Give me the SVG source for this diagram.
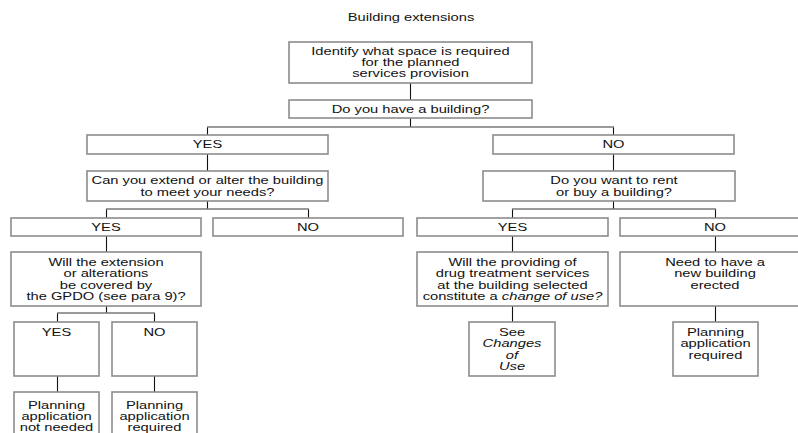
<svg xmlns="http://www.w3.org/2000/svg" width="798" height="433" viewBox="0 0 798 433">
<style>
  .box{fill:#fff;stroke:#8c8c8c;stroke-width:1.6}
  .v{stroke:#111;stroke-width:1.1;fill:none}
  .h{stroke:#7a7a7a;stroke-width:1.6;fill:none}
  text{font-family:"Liberation Sans",Arial,sans-serif;font-size:10.5px;fill:#111;text-anchor:middle}
  .it{font-style:italic}
</style>
<rect width="798" height="433" fill="#fff"/>
<g id="title" transform="translate(411,0) scale(1.4,1)"><text x="0" y="21">Building extensions</text></g>

<g id="connectors">
  <path class="v" d="M410.5 83V100M410.5 118V127M207.5 127V135M613.5 127V135M207.5 154V171M613.5 154V171M207.5 201V209M106.5 209V218M308.5 209V218M613.5 201V209M512.5 209V218M715.5 209V218M106.5 236V252M512.5 236V252M715.5 236V252M106.5 306V313M57.5 313V322M154.5 313V322M57.5 376V392M154.5 376V392M512.5 306V322M715.5 306V322"/>
  <path class="h" d="M207 127H614M106 209H309M512 209H716M57 313H155"/>
</g>

<g id="n1"><rect class="box" x="289" y="42" width="243" height="41"/>
  <g transform="translate(410.5,0) scale(1.4,1)"><text x="0" y="55.5">Identify what space is required</text><text x="0" y="66.5">for the planned</text><text x="0" y="77.5">services provision</text></g></g>
<g id="n2"><rect class="box" x="289" y="100" width="243" height="18"/>
  <g transform="translate(410.5,0) scale(1.4,1)"><text x="0" y="113">Do you have a building?</text></g></g>
<g id="n3"><rect class="box" x="87" y="135" width="241" height="19"/>
  <g transform="translate(207.5,0) scale(1.4,1)"><text x="0" y="148">YES</text></g></g>
<g id="n4"><rect class="box" x="493" y="135" width="241" height="19"/>
  <g transform="translate(613.5,0) scale(1.4,1)"><text x="0" y="148">NO</text></g></g>
<g id="n5"><rect class="box" x="87" y="171" width="241" height="30"/>
  <g transform="translate(207.5,0) scale(1.4,1)"><text x="0" y="184">Can you extend or alter the building</text><text x="0" y="196">to meet your needs?</text></g></g>
<g id="n6"><rect class="box" x="483" y="171" width="252" height="30"/>
  <g transform="translate(614,0) scale(1.4,1)"><text x="0" y="184">Do you want to rent</text><text x="0" y="196">or buy a building?</text></g></g>
<g id="n7"><rect class="box" x="11" y="218" width="190" height="18"/>
  <g transform="translate(106,0) scale(1.4,1)"><text x="0" y="231">YES</text></g></g>
<g id="n8"><rect class="box" x="213" y="218" width="190" height="18"/>
  <g transform="translate(308,0) scale(1.4,1)"><text x="0" y="231">NO</text></g></g>
<g id="n9"><rect class="box" x="417" y="218" width="191" height="18"/>
  <g transform="translate(512.5,0) scale(1.4,1)"><text x="0" y="231">YES</text></g></g>
<g id="n10"><rect class="box" x="620" y="218" width="190" height="18"/>
  <g transform="translate(715,0) scale(1.4,1)"><text x="0" y="231">NO</text></g></g>
<g id="n11"><rect class="box" x="11" y="252" width="190" height="54"/>
  <g transform="translate(106,0) scale(1.4,1)"><text x="0" y="266">Will the extension</text><text x="0" y="277.5">or alterations</text><text x="0" y="289">be covered by</text><text x="0" y="300.5">the GPDO (see para 9)?</text></g></g>
<g id="n12"><rect class="box" x="417" y="252" width="191" height="54"/>
  <g transform="translate(512.5,0) scale(1.4,1)"><text x="0" y="266">Will the providing of</text><text x="0" y="277.5">drug treatment services</text><text x="0" y="289">at the building selected</text><text x="0" y="300.5">constitute a <tspan class="it">change of use?</tspan></text></g></g>
<g id="n13"><rect class="box" x="620" y="252" width="190" height="54"/>
  <g transform="translate(715,0) scale(1.4,1)"><text x="0" y="266">Need to have a</text><text x="0" y="277.5">new building</text><text x="0" y="289">erected</text></g></g>
<g id="n14"><rect class="box" x="14" y="322" width="85" height="54"/>
  <g transform="translate(56.5,0) scale(1.4,1)"><text x="0" y="336">YES</text></g></g>
<g id="n15"><rect class="box" x="112" y="322" width="85" height="54"/>
  <g transform="translate(154.5,0) scale(1.4,1)"><text x="0" y="336">NO</text></g></g>
<g id="n16"><rect class="box" x="14" y="392" width="85" height="50"/>
  <g transform="translate(56.5,0) scale(1.4,1)"><text x="0" y="409">Planning</text><text x="0" y="420">application</text><text x="0" y="431">not needed</text></g></g>
<g id="n17"><rect class="box" x="112" y="392" width="85" height="50"/>
  <g transform="translate(154.5,0) scale(1.4,1)"><text x="0" y="409">Planning</text><text x="0" y="420">application</text><text x="0" y="431">required</text></g></g>
<g id="n18"><rect class="box" x="469" y="322" width="86" height="54"/>
  <g transform="translate(512,0) scale(1.4,1)"><text x="0" y="336">See</text><text class="it" x="0" y="347.5">Changes</text><text class="it" x="0" y="359">of</text><text class="it" x="0" y="370.5">Use</text></g></g>
<g id="n19"><rect class="box" x="673" y="322" width="85" height="54"/>
  <g transform="translate(715.5,0) scale(1.4,1)"><text x="0" y="336">Planning</text><text x="0" y="347.5">application</text><text x="0" y="359">required</text></g></g>
</svg>
